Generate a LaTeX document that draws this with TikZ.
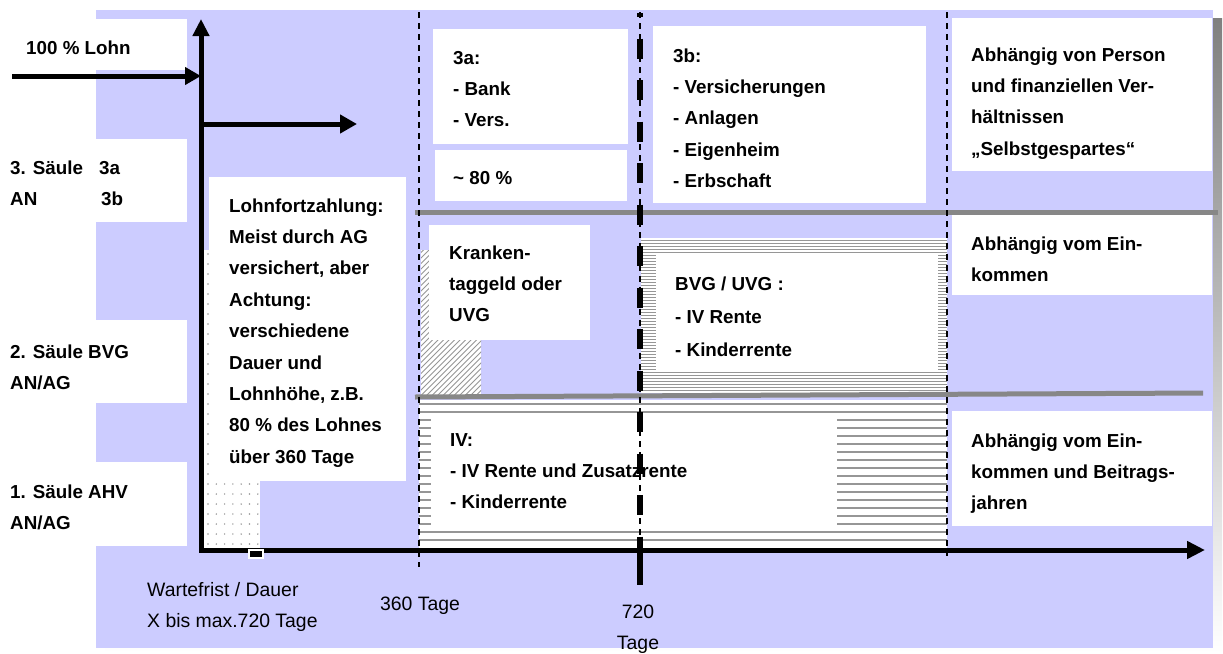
\documentclass[tikz,border=0pt]{standalone}
\usepackage{fontspec}
\setmainfont{Liberation Sans}
\usetikzlibrary{arrows.meta}
\definecolor{lav}{RGB}{204,204,255}
\definecolor{shade}{RGB}{178,178,178}
\definecolor{sepgray}{RGB}{135,135,135}
\definecolor{patgray}{RGB}{150,150,150}
\tikzset{
  wbox/.style={fill=white},
  bt/.style={anchor=north west, inner sep=0pt, align=left, yshift=22pt,
    font=\bfseries\fontsize{18.8}{31.4}\selectfont},
  rt/.style={inner sep=0pt, yshift=21.7pt, font=\fontsize{19.4}{31}\selectfont},
  axes/.style={line width=5pt, line join=miter,
    {Triangle[length=17pt,width=16pt]}-{Triangle[length=18pt,width=17pt]}},
  arr/.style={line width=5pt, -{Triangle[length=16pt,width=17pt]}},
  thindash/.style={line width=1.6pt, dash pattern=on 6pt off 5pt},
  thickdash/.style={line width=6pt, dash pattern=on 20pt off 21.5pt, dash phase=16pt},
  sepline/.style={line width=5pt, draw=sepgray},
  patline/.style={draw=patgray, line width=0.9pt}
}
\begin{document}
\begin{tikzpicture}[x=1pt,y=-1pt]
\useasboundingbox (0,0) rectangle (1223,653);
% background with shadow
\fill[shade] (105,18) rectangle (1222,653);
\fill[lav] (96,10) rectangle (1213,648);
% left label boxes
\fill[wbox] (0,19) rectangle (187,70);
\fill[wbox] (0,139) rectangle (187,222);
\fill[wbox] (0,320) rectangle (187,403);
\fill[wbox] (0,462) rectangle (187,546);
% dotted region
\fill[white] (203,250) rectangle (260,548);
\foreach \i in {0,...,6}
  \foreach \j in {0,...,29}
    \fill[patgray] (208+\i*8.3,254+\j*10) circle (0.8);
% hatched region
\fill[white] (421,250) rectangle (481,396);
\begin{scope}
  \clip (421,250) rectangle (481,396);
  \foreach \k in {0,...,45}
    \draw[patline] (261+\k*5.5,396) -- ++(160,-160);
\end{scope}
% BVG region
\fill[white] (641,238) rectangle (947,393);
\foreach \yy in {240,243,...,392}
  \draw[patline, line width=0.8pt] (641,\yy) -- (947,\yy);
\fill[white] (656,253) rectangle (938,372);
% IV region
\fill[white] (419,400) rectangle (947,548);
\foreach \yy in {404,412,...,546}
  \draw[patline, line width=1.1pt] (419,\yy) -- (947,\yy);
\fill[white] (431,413) rectangle (837,529);
% other boxes
\fill[wbox] (209,177) rectangle (406,481);
\fill[wbox] (429,225) rectangle (590,340);
\fill[wbox] (433,29) rectangle (628,144);
\fill[wbox] (435,150) rectangle (627,201);
\fill[wbox] (653,26) rectangle (926,203);
\fill[wbox] (952,18) rectangle (1212,171);
\fill[wbox] (952,215) rectangle (1212,295);
\fill[wbox] (952,411) rectangle (1212,526);
% separator lines
\coordinate (s1a) at (415,212); \coordinate (s1b) at (1218,212);
\coordinate (s2a) at (415,397); \coordinate (s2b) at (1203,393);
\draw[sepline] (s1a) -- (s1b);
\draw[sepline] (s2a) -- (s2b);
% thin dashed lines
\coordinate (d1t) at (419,12); \coordinate (d1b) at (419,567);
\coordinate (d2t) at (640,12); \coordinate (d2b) at (640,550);
\coordinate (d3t) at (947,12); \coordinate (d3b) at (947,556);
\draw[thindash] (d1t) -- (d1b);
\draw[thindash] (d2t) -- (d2b);
\draw[thindash] (d3t) -- (d3b);
% axes and arrows
\coordinate (ytop) at (201,19);
\coordinate (xend) at (1205,550);
\draw[axes] (ytop) |- (xend);
\coordinate (lohnS) at (12,76); \coordinate (lohnE) at (201,76);
\draw[arr] (lohnS) -- (lohnE);
\coordinate (brS) at (203,124); \coordinate (brE) at (357,124);
\draw[arr, -{Triangle[length=17pt,width=18pt]}] (brS) -- (brE);
% marker
\fill[white] (248,549) rectangle (264,559);
\fill[black] (250,551) rectangle (262,557);
% texts
\node[bt] (t100) at (26,54) {\strut 100 \% Lohn};
\node[bt] (t3) at (10,174) {\strut \makebox[89pt][l]{3. Säule}3a\\\makebox[91pt][l]{AN}3b};
\node[bt] (t2) at (10,358) {\strut 2. Säule BVG\\AN/AG};
\node[bt] (t1) at (10,498) {\strut 1. Säule AHV\\AN/AG};
\node[bt] (tlf) at (229,212) {\strut Lohnfortzahlung:\\Meist durch AG\\versichert, aber\\Achtung:\\verschiedene\\Dauer und\\Lohnhöhe, z.B.\\80 \% des Lohnes\\über 360 Tage};
\node[bt] (t3a) at (453,64) {\strut 3a:\\- Bank\\- Vers.};
\node[bt] (t80) at (453,184) {\strut \textasciitilde{} 80 \%};
\node[bt] (t3b) at (673,62) {\strut 3b:\\- Versicherungen\\- Anlagen\\- Eigenheim\\- Erbschaft};
\node[bt] (tr1) at (971,61) {\strut Abhängig von Person\\und finanziellen Ver-\\hältnissen\\„Selbstgespartes“};
\node[bt] (tr2) at (971,250) {\strut Abhängig vom Ein-\\kommen};
\node[bt] (tr3) at (971,447) {\strut Abhängig vom Ein-\\kommen und Beitrags-\\jahren};
\node[bt] (tkr) at (449,259) {\strut Kranken-\\taggeld oder\\UVG};
\node[bt, font=\bfseries\fontsize{18.8}{33}\selectfont, yshift=1.1pt] (tbvg) at (675,290) {\strut BVG / UVG :\\- IV Rente\\- Kinderrente};
\node[bt] (tiv) at (450,446) {\strut IV:\\- IV Rente und Zusatzrente\\- Kinderrente};
\node[rt, anchor=north west, align=left] (twart) at (147,596) {\strut Wartefrist / Dauer\\X bis max.720 Tage};
\node[rt, anchor=north, align=center] (t360) at (420,610) {\strut 360 Tage};
\node[rt, anchor=north, align=center] (t720) at (638,618) {\strut 720\\Tage};
% thick dashed 720 line
\coordinate (k1) at (640,13); \coordinate (k2) at (640,557);
\draw[thickdash] (k1) -- (k2);
\coordinate (k3) at (640,550); \coordinate (k4) at (640,585);
\draw[line width=6pt] (k3) -- (k4);
\end{tikzpicture}
\end{document}
